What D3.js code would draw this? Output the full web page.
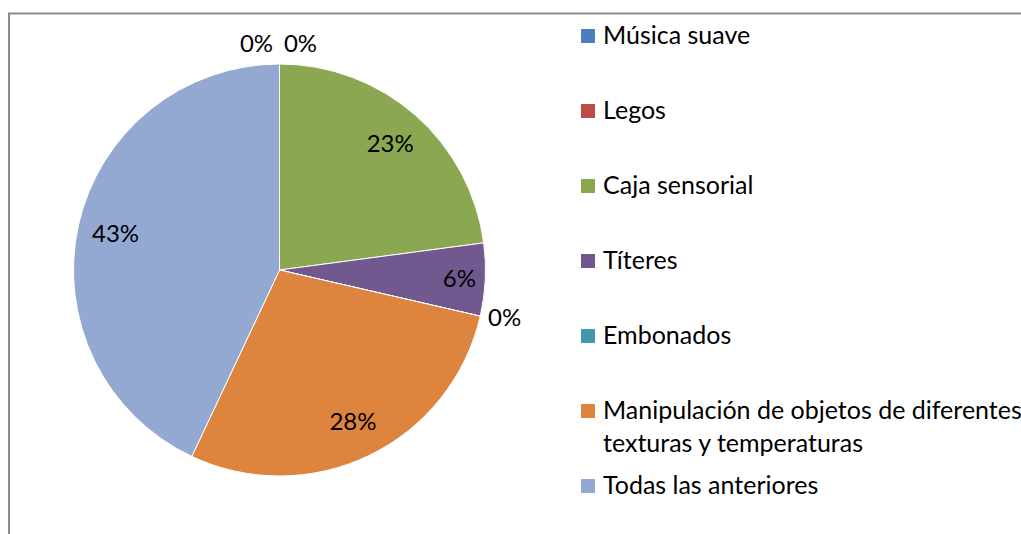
<!DOCTYPE html>
<html><head><meta charset="utf-8">
<script src="https://cdn.jsdelivr.net/npm/d3@7"></script>
<style>body{margin:0;background:#fff}svg{display:block}text{font-family:Lato,"Liberation Sans",sans-serif;fill:#000}</style>
</head><body>
<svg id="c" width="1021" height="534"></svg>
<script>
const categories = ["Música suave","Legos","Caja sensorial","Títeres","Embonados","Manipulación de objetos de diferentes texturas y temperaturas","Todas las anteriores"];
const legendLines = [["Música suave"],["Legos"],["Caja sensorial"],["Títeres"],["Embonados"],["Manipulación de objetos de diferentes","texturas y temperaturas"],["Todas las anteriores"]];
const values = [0,0,22.9,5.7,0,28.4,43.0];
const colors = ["#4A7EBB","#BE4B48","#8BA751","#71588F","#4298AF","#DD843E","#94A9D1"];

const svg = d3.select("#c");
const fsLabel = 24, fsLegend = 25;

// frame
svg.append("rect").attr("x",9).attr("y",13.5).attr("width",1100).attr("height",600)
  .attr("fill","none").attr("stroke","#8c8c8c").attr("stroke-width",2);

const cx = 279.5, cy = 270, R = 206;
const total = d3.sum(values);
const pie = d3.pie().sort(null).value(d=>d)(values);
const arc = d3.arc().innerRadius(0).outerRadius(R);
const g = svg.append("g").attr("transform",`translate(${cx},${cy})`);
g.selectAll("path").data(pie).join("path")
  .attr("d",arc).attr("fill",(d,i)=>colors[i])
  .attr("stroke","#fff").attr("stroke-width",1);

const fmt = v => Math.round(v/total*100) + "%";
let topCount = 0;
pie.forEach((d,i)=>{
  const a = (d.startAngle+d.endAngle)/2;
  const t = g.append("text").style("font-size",fsLabel+"px").text(fmt(d.value));
  if (d.value > 0) {
    const frac = d.value/total;
    const r = frac < 0.1 ? 180 : 168;
    t.attr("x", r*Math.sin(a)).attr("y", -r*Math.cos(a)).attr("dy","0.35em").attr("text-anchor","middle");
  } else {
    const s = Math.sin(a);
    if (Math.abs(s) < 0.1) {
      const shift = topCount === 0 ? -23 : 21; topCount++;
      t.attr("x", shift).attr("y", -(R+12)).attr("text-anchor","middle");
    } else {
      const r = R+8;
      t.attr("x", r*s).attr("y", -r*Math.cos(a)).attr("dy","0.35em").attr("text-anchor", s>0?"start":"end");
    }
  }
});

// legend
const ly = d3.scalePoint().domain(categories).range([36,486]);
const lg = svg.append("g");
categories.forEach((c,i)=>{
  const y = ly(c);
  lg.append("rect").attr("x",581).attr("y",y-7).attr("width",14).attr("height",14).attr("fill",colors[i]);
  const t = lg.append("text").attr("x",603).attr("y",y+8).style("font-size",fsLegend+"px");
  legendLines[i].forEach((ln,j)=>{
    t.append("tspan").attr("x",603).attr("dy", j===0?0:33).text(ln);
  });
});
</script>
</body></html>
